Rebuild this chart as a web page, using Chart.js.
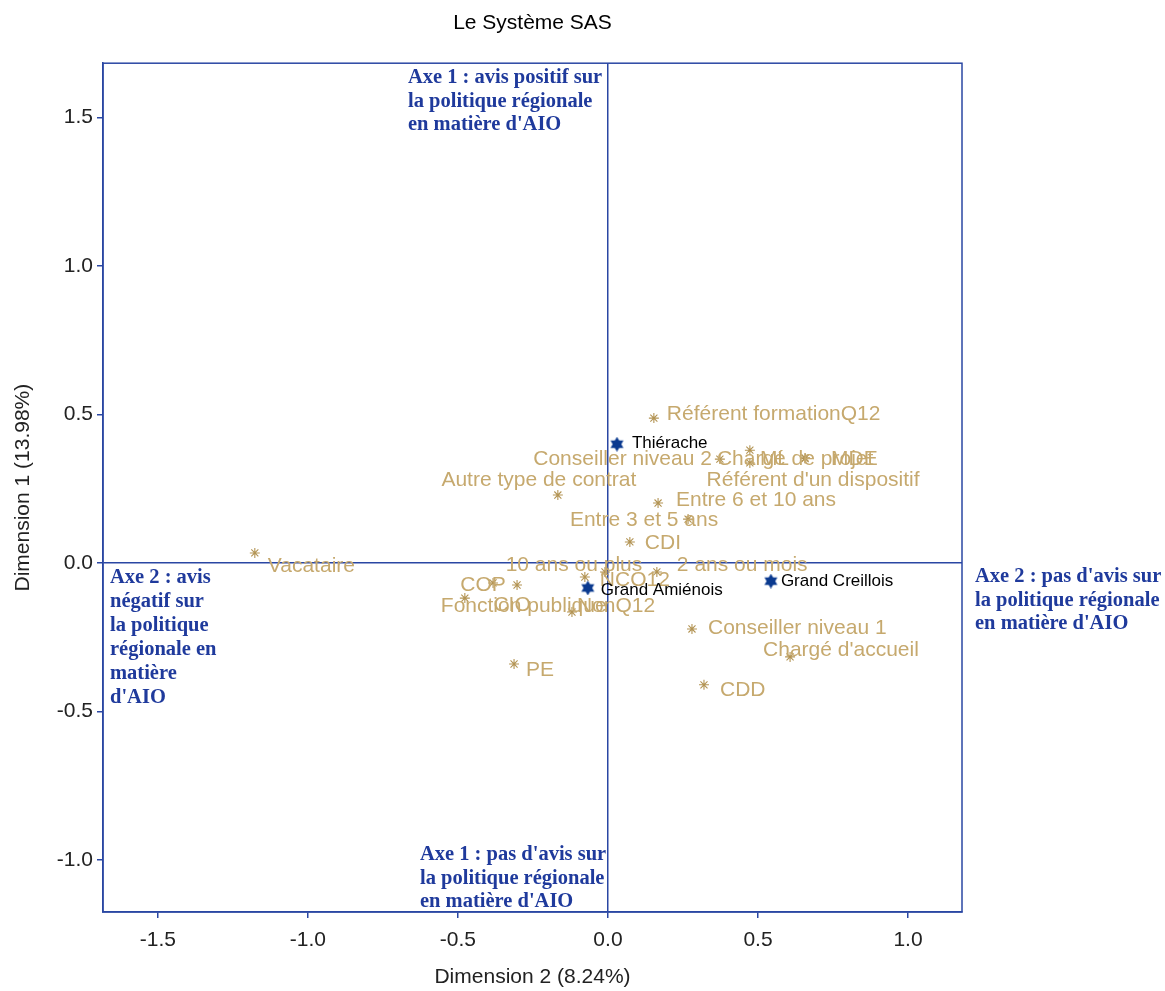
<!DOCTYPE html>
<html>
<head>
<meta charset="utf-8">
<script src="https://cdn.jsdelivr.net/npm/chart.js@4.4.1/dist/chart.umd.min.js"></script>
<style>
  html, body { margin: 0; padding: 0; background: #fff; }
  #wrap { width: 1165px; height: 991px; }
</style>
</head>
<body>
<div id="wrap"><canvas id="c"></canvas></div>
<script>
// modalities (tan asterisks)
const modalites = [
  'Référent formationQ12', 'Conseiller niveau 2', 'Chargé de projet', 'ML', 'MDE',
  "Référent d'un dispositif", 'Autre type de contrat', 'Entre 6 et 10 ans', 'Entre 3 et 5 ans', 'CDI',
  '10 ans ou plus', 'NCO12', '2 ans ou mois', 'COP', 'CIO',
  'Fonction publique', 'NonQ12', 'Vacataire', 'Conseiller niveau 1', "Chargé d'accueil",
  'PE', 'CDD'
]
const modDim2 = [
  0.153, 0.373, 0.473, 0.473, 0.657,
  0.657, -0.167, 0.167, 0.267, 0.073,
  -0.010, -0.077, 0.163, -0.383, -0.303,
  -0.477, -0.120, -1.177, 0.280, 0.607,
  -0.313, 0.320
]
const modDim1 = [
  0.488, 0.350, 0.380, 0.337, 0.354,
  0.352, 0.229, 0.202, 0.148, 0.071,
  -0.030, -0.047, -0.030, -0.067, -0.074,
  -0.118, -0.165, 0.034, -0.222, -0.316,
  -0.340, -0.410
]

// regions (blue stars)
const regions = ['Thiérache', 'Grand Amiénois', 'Grand Creillois']
const regDim2 = [0.030, -0.067, 0.543]
const regDim1 = [0.400, -0.084, -0.061]

const xTicks = [-1.5, -1.0, -0.5, 0, 0.5, 1.0]
const yTicks = [-1.0, -0.5, 0, 0.5, 1.0, 1.5]

// where each label sits next to its marker: [dx, dy, align]
const labelPlace = {
  'Référent formationQ12': [13, -4, 'left'],
  'Conseiller niveau 2': [-8, 0, 'right'],
  'Chargé de projet': [-33, 9, 'left'],
  'ML': [10, -4, 'left'],
  'MDE': [26, 1, 'left'],
  "Référent d'un dispositif": [8, 22, 'center'],
  'Autre type de contrat': [-19, -15, 'center'],
  'Entre 6 et 10 ans': [18, -3, 'left'],
  'Entre 3 et 5 ans': [-44, 1, 'center'],
  'CDI': [15, 1, 'left'],
  '10 ans ou plus': [-31, -7, 'center'],
  'NCO12': [15, 3, 'left'],
  '2 ans ou mois': [20, -7, 'left'],
  'COP': [-10, 2, 'center'],
  'CIO': [-5, 20, 'center'],
  'Fonction publique': [-24, 8, 'left'],
  'NonQ12': [5, -6, 'left'],
  'Vacataire': [13, 13, 'left'],
  'Conseiller niveau 1': [16, -1, 'left'],
  "Chargé d'accueil": [-27, -7, 'left'],
  'PE': [12, 6, 'left'],
  'CDD': [16, 5, 'left'],
  'Thiérache': [15, -1, 'left'],
  'Grand Amiénois': [13, 2, 'left'],
  'Grand Creillois': [10, 0, 'left']
}

const BLUE = '#2a47a3'
const NAVY = '#0b3a8f'
const TAN = '#c6a96e'
const SANS = '"Liberation Sans", Arial, sans-serif'
const SERIF = '"Liberation Serif", "Times New Roman", serif'

function hexagram(size, color) {
  const c = document.createElement('canvas')
  c.width = c.height = size
  const g = c.getContext('2d')
  const r = size / 2
  g.fillStyle = color
  ;[-Math.PI / 2, Math.PI / 2].forEach(function(rot) {
    g.beginPath()
    for (let k = 0; k < 3; k++) {
      const a = rot + k * 2 * Math.PI / 3
      const px = r + r * Math.cos(a), py = r + r * Math.sin(a)
      if (k) g.lineTo(px, py); else g.moveTo(px, py)
    }
    g.closePath()
    g.fill()
  })
  return c
}

const pointLabels = {
  id: 'pointLabels',
  afterDatasetsDraw(chart) {
    const ctx = chart.ctx
    ctx.save()
    ctx.textBaseline = 'middle'
    chart.data.datasets.forEach(function(ds, di) {
      const meta = chart.getDatasetMeta(di)
      ds.names.forEach(function(name, i) {
        const pt = meta.data[i]
        const p = labelPlace[name] || [10, 0, 'left']
        ctx.font = ds.labelFont
        ctx.fillStyle = ds.labelColor
        ctx.textAlign = p[2]
        ctx.fillText(name, pt.x + p[0], pt.y + p[1])
      })
    })
    ctx.restore()
  }
}

const frameAndNotes = {
  id: 'frameAndNotes',
  afterDraw(chart) {
    const ctx = chart.ctx
    const a = chart.chartArea
    const x0 = chart.scales.x.getPixelForValue(0)
    ctx.save()
    ctx.strokeStyle = BLUE
    ctx.lineWidth = 1.5
    ctx.strokeRect(a.left, a.top, a.right - a.left, a.bottom - a.top)

    ctx.font = 'bold 20.5px ' + SERIF
    ctx.fillStyle = '#1f3a9c'
    ctx.textAlign = 'left'
    ctx.textBaseline = 'middle'
    const notes = [
      { x: x0 - 200, y: a.top + 15, lh: 23.5, lines: ['Axe 1 : avis positif sur', 'la politique régionale', "en matière d'AIO"] },
      { x: x0 - 188, y: a.bottom - 57, lh: 23.5, lines: ["Axe 1 : pas d'avis sur", 'la politique régionale', "en matière d'AIO"] },
      { x: a.left + 7, y: 578, lh: 24, lines: ['Axe 2 : avis', 'négatif sur', 'la politique', 'régionale en', 'matière', "d'AIO"] },
      { x: a.right + 13, y: 577, lh: 23.5, lines: ["Axe 2 : pas d'avis sur", 'la politique régionale', "en matière d'AIO"] }
    ]
    notes.forEach(function(n) {
      n.lines.forEach(function(t, i) { ctx.fillText(t, n.x, n.y + i * n.lh) })
    })
    ctx.restore()
  }
}

const zeroLine = function(c) { return c.tick && c.tick.value === 0 ? BLUE : 'rgba(0,0,0,0)' }

new Chart(document.getElementById('c'), {
  type: 'scatter',
  data: {
    datasets: [
      {
        names: modalites,
        labelFont: '21px ' + SANS,
        labelColor: TAN,
        data: modDim2.map(function(v, i) { return { x: v, y: modDim1[i] } }),
        pointStyle: 'star',
        radius: 5,
        borderWidth: 1.1,
        borderColor: '#b39454',
        backgroundColor: '#b39454'
      },
      {
        names: regions,
        labelFont: '17px ' + SANS,
        labelColor: '#000',
        data: regDim2.map(function(v, i) { return { x: v, y: regDim1[i] } }),
        pointStyle: hexagram(15, NAVY),
        radius: 7
      }
    ]
  },
  options: {
    responsive: true,
    maintainAspectRatio: false,
    animation: false,
    layout: { padding: { left: 0, right: 203, top: 0, bottom: 0 } },
    plugins: {
      legend: { display: false },
      tooltip: { enabled: false },
      title: {
        display: true,
        text: 'Le Système SAS',
        fullSize: false,
        color: '#000',
        font: { size: 21, family: SANS, weight: 'normal' },
        padding: { top: 11, bottom: 27 }
      }
    },
    scales: {
      x: {
        type: 'linear',
        min: -1.683,
        max: 1.18,
        afterBuildTicks: function(s) { s.ticks = xTicks.map(function(v) { return { value: v } }) },
        afterFit: function(s) { s.height = 79 },
        ticks: {
          color: '#222',
          font: { size: 21, family: SANS },
          padding: 10,
          maxRotation: 0,
          callback: function(v) { return Number(v).toFixed(1) }
        },
        grid: { color: zeroLine, lineWidth: 1.5, tickLength: 6, tickColor: BLUE, tickWidth: 1.5 },
        border: { color: BLUE, width: 1.5 },
        title: {
          display: true,
          text: 'Dimension 2 (8.24%)',
          color: '#222',
          font: { size: 21, family: SANS },
          padding: { top: 4, bottom: 1 }
        }
      },
      y: {
        type: 'linear',
        min: -1.175,
        max: 1.683,
        afterBuildTicks: function(s) { s.ticks = yTicks.map(function(v) { return { value: v } }) },
        afterFit: function(s) { s.width = 103 },
        ticks: {
          color: '#222',
          font: { size: 21, family: SANS },
          padding: 4,
          callback: function(v) { return Number(v).toFixed(1) }
        },
        grid: { color: zeroLine, lineWidth: 1.5, tickLength: 6, tickColor: BLUE, tickWidth: 1.5 },
        border: { color: BLUE, width: 1.5 },
        title: {
          display: true,
          text: 'Dimension 1 (13.98%)',
          color: '#222',
          font: { size: 21, family: SANS },
          padding: { top: 11, bottom: 0 }
        }
      }
    }
  },
  plugins: [pointLabels, frameAndNotes]
})
</script>
</body>
</html>
